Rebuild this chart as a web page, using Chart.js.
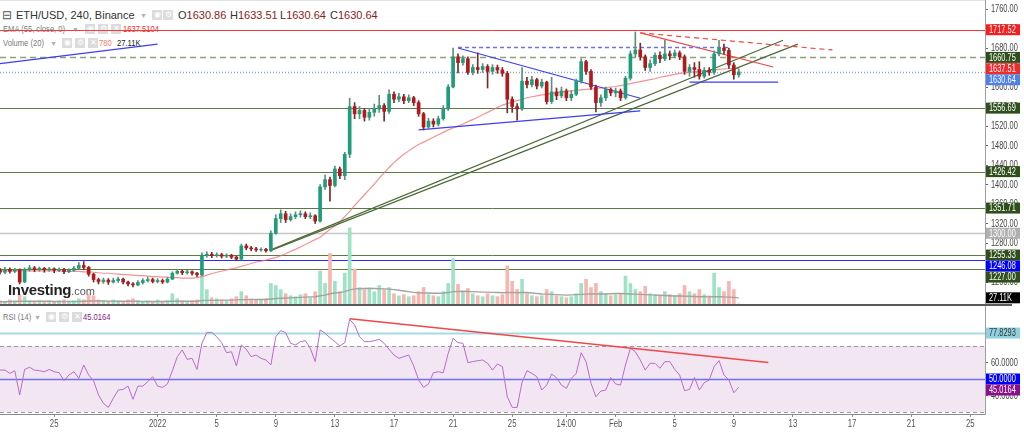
<!DOCTYPE html>
<html><head><meta charset="utf-8">
<script src="https://cdn.jsdelivr.net/npm/chart.js@4.4.1/dist/chart.umd.min.js"></script>
<style>
html,body{margin:0;padding:0;background:#fff;width:1024px;height:432px;overflow:hidden;font-family:'Liberation Sans',Arial,sans-serif;}
#wrap{position:relative;width:1024px;height:432px;}
canvas{position:absolute;left:0;z-index:1;}
#cTop{top:0;}
#cBot{top:306px;}
#divider{position:absolute;left:0;top:304px;width:1012px;height:2px;background:#5a5a5a;z-index:2;}
#topline{position:absolute;left:0;top:0;width:985px;height:1px;background:#e2e2e2;z-index:0;}
.lg{position:absolute;white-space:nowrap;z-index:0;line-height:12px;}
.sm{font-size:9.5px;transform:scaleX(0.8);transform-origin:0 50%;}
.ic{position:absolute;width:10px;height:10px;background:#dcdcdc;color:#fff;font-size:8px;line-height:10px;text-align:center;z-index:0;}
.arr{position:absolute;color:#b0b0b0;font-size:7px;z-index:0;}
#wm{position:absolute;left:8px;top:281px;z-index:3;white-space:nowrap;}
</style></head>
<body><div id="wrap">
<div id="topline"></div>
<div class="lg" style="left:2px;top:9px;font-size:12px;color:#555;">⊟</div>
<div class="lg" style="left:16px;top:9px;font-size:11px;color:#333;">ETH/USD, 240, Binance</div>
<div class="arr" style="left:140px;top:12px;">▼</div>
<div class="ic" style="left:152px;top:10px;">◉</div><div class="ic" style="left:163px;top:10px;">⚙</div>
<div class="lg" style="left:178px;top:9px;font-size:11px;color:#333;">O<span style="color:#8b1c1c">1630.86</span></div>
<div class="lg" style="left:230px;top:9px;font-size:11px;color:#333;">H<span style="color:#8b1c1c">1633.51</span></div>
<div class="lg" style="left:280px;top:9px;font-size:11px;color:#333;">L<span style="color:#8b1c1c">1630.64</span></div>
<div class="lg" style="left:330px;top:9px;font-size:11px;color:#333;">C<span style="color:#8b1c1c">1630.64</span></div>

<div class="lg sm" style="left:3px;top:23px;color:#7a7a7a;">EMA (55, close, 0)</div>
<div class="arr" style="left:72px;top:26px;">▼</div>
<div class="ic" style="left:85px;top:24px;">◉</div><div class="ic" style="left:98px;top:24px;">⚙</div><div class="ic" style="left:111px;top:24px;">✕</div>
<div class="lg sm" style="left:123px;top:23px;color:#f22;">1637.5104</div>

<div class="lg sm" style="left:3px;top:37px;color:#7a7a7a;">Volume (20)</div>
<div class="arr" style="left:50px;top:40px;">▼</div>
<div class="ic" style="left:62px;top:38px;">◉</div><div class="ic" style="left:75px;top:38px;">⚙</div><div class="ic" style="left:88px;top:38px;">✕</div>
<div class="lg sm" style="left:99px;top:37px;color:#f07a6a;">780</div>
<div class="lg sm" style="left:117px;top:37px;color:#222;">27.11K</div>

<div class="lg sm" style="left:3px;top:311px;color:#7a7a7a;">RSI (14)</div>
<div class="arr" style="left:34px;top:314px;">▼</div>
<div class="ic" style="left:46px;top:312px;">◉</div><div class="ic" style="left:59px;top:312px;">⚙</div><div class="ic" style="left:72px;top:312px;">✕</div>
<div class="lg sm" style="left:83px;top:311px;color:#8b1a8b;">45.0164</div>

<div id="wm"><span style="font-weight:bold;font-size:15px;color:#222;letter-spacing:-0.3px;">Investing</span><span style="font-size:11px;color:#555;">.com</span></div>

<canvas id="cTop" width="1024" height="304"></canvas>
<div id="divider"></div>
<canvas id="cBot" width="1024" height="126"></canvas>
</div>
<script>
// ---------------- DATA ----------------
const N_SLOTS = 201; // 8-hour slots from Dec 21 to Feb 26
const xTickSlots = [11,32,44,56,68,80,92,104,115,125,137,149,161,173,185,197];
const xTickTexts = ['25','2022','5','9','13','17','21','25','14:00','Feb','5','9','13','17','21','25'];

const opens = [1224,1220,1226,1222,1225,1200,1226,1229,1226,1228, 1225,1227,1224,1226,1221,1224,1228,1234,1230,1216, 1205,1201,1204,1200,1203,1206,1200,1196,1194,1199, 1203,1205,1201,1203,1200,1206,1218,1222,1219,1221, 1218,1215,1255,1257,1254,1256,1253,1255,1251,1247, 1274,1270,1268,1266,1267,1264,1300,1330,1340,1328, 1334,1338,1340,1334,1336,1325,1395,1410,1398,1432, 1418,1462,1560,1545,1552,1538,1548,1555,1562,1550, 1585,1575,1580,1572,1578,1568,1545,1518,1530,1524, 1535,1555,1600,1662,1650,1658,1630,1640,1636,1642, 1632,1640,1635,1628,1575,1560,1555,1612,1605,1615, 1602,1610,1570,1590,1582,1592,1578,1585,1612,1652, 1632,1600,1568,1578,1595,1588,1592,1578,1618,1668, 1676,1662,1640,1648,1665,1658,1668,1664,1670,1662, 1632,1640,1636,1622,1634,1630,1668,1680,1675,1645, 1625];
const highs = [1228,1230,1229,1228,1227,1229,1234,1232,1231,1230, 1230,1229,1229,1228,1227,1232,1240,1242,1232,1218, 1208,1208,1207,1208,1210,1208,1202,1199,1203,1207, 1210,1208,1207,1206,1209,1221,1226,1225,1224,1223, 1220,1260,1262,1261,1260,1259,1258,1257,1253,1278, 1278,1273,1271,1270,1269,1305,1338,1348,1345,1340, 1344,1346,1344,1342,1338,1400,1420,1415,1438,1436, 1466,1577,1568,1560,1556,1556,1565,1583,1566,1594, 1590,1587,1585,1584,1581,1572,1548,1536,1535,1540, 1562,1605,1680,1668,1664,1662,1646,1670,1648,1646, 1646,1645,1640,1632,1580,1566,1640,1620,1622,1618, 1616,1612,1620,1598,1600,1596,1592,1616,1658,1655, 1636,1604,1584,1600,1598,1598,1596,1622,1674,1713, 1690,1666,1656,1670,1672,1696,1674,1676,1674,1666, 1646,1650,1652,1640,1640,1674,1696,1688,1680,1650, 1637];
const lows = [1216,1217,1218,1219,1196,1199,1222,1221,1222,1220, 1222,1219,1221,1217,1219,1222,1226,1225,1212,1200, 1196,1197,1195,1198,1199,1196,1192,1190,1192,1196, 1200,1198,1198,1197,1198,1205,1216,1215,1216,1214, 1211,1213,1251,1250,1251,1249,1250,1248,1244,1246, 1266,1264,1263,1263,1261,1262,1298,1322,1322,1325, 1330,1333,1330,1330,1320,1323,1390,1366,1395,1412, 1410,1455,1535,1535,1530,1532,1540,1548,1530,1546, 1568,1570,1566,1568,1562,1540,1512,1515,1518,1520, 1532,1552,1598,1629,1645,1626,1625,1628,1630,1598, 1626,1628,1622,1547,1548,1532,1552,1598,1600,1596, 1598,1565,1566,1574,1578,1572,1572,1582,1608,1626, 1595,1549,1560,1572,1582,1580,1572,1575,1614,1662, 1655,1634,1632,1644,1650,1654,1656,1660,1656,1626, 1622,1620,1616,1618,1624,1626,1664,1668,1638,1616, 1620];
const closes = [1220,1226,1222,1225,1200,1226,1229,1226,1228,1225, 1227,1224,1226,1221,1224,1228,1234,1230,1216,1205, 1201,1204,1200,1203,1206,1200,1196,1194,1199,1203, 1205,1201,1203,1200,1206,1218,1222,1219,1221,1218, 1215,1255,1257,1254,1256,1253,1255,1251,1247,1274, 1270,1268,1266,1267,1264,1300,1330,1340,1328,1334, 1338,1340,1334,1336,1325,1395,1410,1398,1432,1418, 1462,1560,1545,1552,1538,1548,1555,1562,1550,1585, 1575,1580,1572,1578,1568,1545,1518,1530,1524,1535, 1555,1600,1662,1650,1658,1630,1640,1636,1642,1632, 1640,1635,1628,1575,1560,1555,1612,1605,1615,1602, 1610,1570,1590,1582,1592,1578,1585,1612,1652,1632, 1600,1568,1578,1595,1588,1592,1578,1618,1668,1676, 1662,1640,1648,1665,1658,1668,1664,1670,1662,1632, 1640,1636,1622,1634,1630,1668,1680,1675,1645,1625, 1631];
const ema55 = [1223,1223,1223,1223,1223,1223,1223,1223,1223,1223,1223, 1223,1223,1222,1222,1222,1222,1221,1221, 1220,1219,1218,1218,1217,1216, 1215,1215,1214,1213,1213,1212, 1211,1211,1210,1210,1209,1209, 1208,1208,1208,1209,
 1211,1214,1217,1220,1222,1225,1227,1229,1232,1235, 1238,1241,1243,1245,1248,1250,1254,1258,1263,1267, 1272,1277,1282,1287,1292,1300,1308,1315,1323,1334, 1345,1357,1368,1379,1390,1401,1413,1424,1435,1445, 1454,1462,1469,1476,1482,1487,1492,1497,1502,1507, 1512,1516,1520,1524,1529,1533,1538,1543,1548,1553, 1558,1563,1566,1569,1572,1575,1578,1580,1582,1584, 1585,1587,1588,1590,1591,1592,1593,1594,1595,1596, 1597,1598,1599,1600,1601,1603,1605,1607,1609,1611, 1613,1615,1617,1620,1622,1624,1626,1628,1629,1630, 1631,1632,1633,1634,1635,1636,1637,1638,1638,1638];
const volumes = [14,9,18,14,41,32,14,9,14,9, 14,9,14,18,9,14,23,18,41,36, 18,14,9,18,14,9,18,23,14,9, 14,9,18,9,14,45,23,14,9,14, 18,131,63,27,23,18,14,23,32,54, 36,23,18,18,23,90,81,63,45,36, 32,41,45,27,54,144,90,221,99,54, 135,333,153,72,63,68,54,81,63,72, 45,36,41,32,36,54,72,41,36,32, 54,90,198,86,54,68,45,36,32,45, 36,32,41,167,99,63,108,45,36,32, 36,63,54,36,32,27,32,45,90,108, 72,90,54,45,36,41,45,122,90,63, 54,77,45,41,36,54,41,36,45,81, 54,45,63,41,36,135,72,54,99,63, 0.78];
const volumeMA = [10,10,11,11,12,12,12,12,12,12, 12,11,11,11,11,11,11,12,13,13, 13,13,12,12,12,12,12,12,12,11, 11,11,11,11,12,12,12,12,12,12, 12,
 15,16,16,16,17,17,17,18,19,19,19,20,20,20,22,
 24,25,26,27,28,29,30,31,32,36,39,45,48,50,54,
 62,66,67,68,69,68,67,66,65,63,60,57,54,51,49,48,48,47,47,48,
 50,54,55,56,55,54,53,52,52,51,50,49,50,50,49,50,50,48,46,44,
 43,42,41,40,39,40,41,42,43,44,44,44,44,45,46,46,45,44,43,42,
 41,40,39,38,37,36,35,35,34,34,33,32,32,31,32,32,31,30,29,27];
const rsi14 = [55.4,55.4,53.4,55.0,40.3,55.8,57.1,55.4,55.0,54.4, 55.8,54.4,53.8,49.0,52.4,54.4,50.4,58.5,52.4,49.0, 40.3,35.2,32.8,38.3,43.3,43.7,45.7,37.7,45.7,45.7, 48.4,51.4,45.7,44.9,47.0,55.0,63.5,67.6,61.9,62.5, 55.8,71.6,78.1,78.3,75.6,72.0,65.9,66.5,57.9,70.6, 68.0,63.5,64.5,62.5,61.5,58.5,75.6,79.3,78.1,71.6, 70.6,72.6,73.2,68.6,60.5,79.7,77.7,75.0,72.6,70.0, 72.0,86.1,82.7,75.6,72.6,72.6,73.2,74.0,71.6,68.0, 64.5,62.5,63.5,64.5,57.9,49.4,44.9,47.0,53.8,54.4, 53.8,65.5,74.6,72.0,71.6,59.9,60.5,61.1,61.5,59.5, 55.4,59.1,57.5,39.3,32.8,32.8,48.0,55.0,53.4,51.4, 43.3,46.3,53.0,50.8,46.3,44.3,50.4,53.4,65.9,60.5, 47.4,39.3,42.7,43.3,50.8,47.0,46.3,58.5,68.6,66.5, 61.5,55.4,59.5,59.5,56.5,60.5,60.5,55.8,52.4,42.9, 43.7,51.0,43.3,47.8,49.4,57.5,61.1,52.4,49.4,41.7, 45.0];

// trend lines: [slot, value] endpoints
const blueWedgeTop = [[93,1680],[130,1577]];
const blueWedgeBottom = [[85,1512],[130,1551]];
const blueTopDashed = [[93,1681],[148,1681]];
const blueFloor = [[140,1610],[158,1610]];
const blueTopLeft = [[0,1648],[32,1688]];
const redChannel = [[130,1711],[157,1641]];
const redDashed = [[130,1711],[169,1676]];
const greenUpper = [[55,1266],[159,1696]];
const greenLower = [[55,1265],[162,1688]];
const rsiTrend = [[71,86.5],[156,60.0]];

const priceLevels = [1717.52,1660.75,1630.64,1556.69,1426.42,1351.71,1300.00,1255.33,1246.08,1227.00];
const emaLast = 1637.51;
const volMALast = 27.11;
const priceTicks = [1200,1240,1280,1320,1360,1400,1440,1480,1520,1560,1600,1640,1680,1720,1760];
const rsiTicks = [40,50,60];
const rsiLevels = [77.8293,70,50,30];
const rsiLast = 45.0164;

// ---------------- STYLE / BUILD ----------------
const FAM = "'Liberation Sans',Arial,sans-serif";
const labels = Array.from({length:N_SLOTS},(_,i)=>{const k=xTickSlots.indexOf(i);return k>=0?xTickTexts[k]:'';});
function seg(pts){const a=new Array(N_SLOTS).fill(null);pts.forEach(([i,v])=>{a[i]=v;});return a;}
const isUp = closes.map((c,i)=>c>=opens[i]);
const UP='#1f9c7a', DN='#b3191b';

const levelStyles = [
  {color:'#f23b3b',w:1,dash:[]},
  {color:'#8da27a',w:1.6,dash:[6,4]},
  {color:'#89a3f0',w:1.6,dash:[1,2]},
  {color:'#5b7a44',w:1,dash:[]},
  {color:'#5b7a44',w:1,dash:[]},
  {color:'#5b7a44',w:1,dash:[]},
  {color:'#c6c6c6',w:1.6,dash:[]},
  {color:'#5b7a44',w:1,dash:[]},
  {color:'#2b2bf5',w:1.2,dash:[]},
  {color:'#5b7a44',w:1,dash:[]}
];
const levelBoxColors = ['#f51f1f','#2e4f1c','#4f80ea','#2e4f1c','#2e4f1c','#2e4f1c','#b0b0b0','#2e4f1c','#0000ff','#2e4f1c'];
const levelBoxes = priceLevels.map((v,i)=>({axis:'y',value:v,text:v.toFixed(2),bg:levelBoxColors[i],fg:'#fff',rank:(i===2?1:0)}));
levelBoxes.push({axis:'y',value:emaLast,text:emaLast.toFixed(2),bg:'#f22a2a',fg:'#fff',rank:0});
levelBoxes.push({axis:'yVol',value:volMALast,text:volMALast.toFixed(2)+'K',bg:'#000',fg:'#fff',rank:0});

function narrowText(ctx,text,x,y,align,sx,font,color){
  ctx.save();ctx.translate(x,y);ctx.scale(sx,1);ctx.font=font;ctx.fillStyle=color;ctx.textAlign=align;ctx.textBaseline='middle';ctx.fillText(text,0,0);ctx.restore();
}

const levelsPlugin = {
  id:'levels',
  beforeDatasetsDraw(chart,args,opts){
    const ctx=chart.ctx,a=chart.chartArea;
    ctx.save();
    (opts.bands||[]).forEach(b=>{const s=chart.scales[b.axis];const y1=s.getPixelForValue(b.from),y2=s.getPixelForValue(b.to);ctx.fillStyle=b.color;ctx.fillRect(a.left,Math.min(y1,y2),a.right-a.left,Math.abs(y2-y1));});
    (opts.lines||[]).forEach(l=>{const s=chart.scales[l.axis];const y=Math.round(s.getPixelForValue(l.value))+0.5;ctx.strokeStyle=l.color;ctx.lineWidth=l.w;ctx.setLineDash(l.dash);ctx.beginPath();ctx.moveTo(a.left,y);ctx.lineTo(a.right,y);ctx.stroke();});
    ctx.restore();
  },
  afterDraw(chart,args,opts){
    const ctx=chart.ctx,a=chart.chartArea;const h=11;
    if(opts.yDec!==undefined){const s=chart.scales.y;s.ticks.forEach(t=>{narrowText(ctx,Number(t.value).toFixed(opts.yDec),a.right+6,s.getPixelForValue(t.value)+0.5,'left',0.74,'10px '+FAM,'#444');});}
    if(opts.xLabels){const s=chart.scales.x;labels.forEach((lb,i)=>{if(lb)narrowText(ctx,lb,s.getPixelForValue(i),a.bottom+10,'center',0.78,'10px '+FAM,'#555');});}
    const boxes=(opts.boxes||[]).map(b=>Object.assign({},b,{py:chart.scales[b.axis].getPixelForValue(b.value)})).sort((p,q)=>(p.py+p.rank*100)-(q.py+q.rank*100));
    const placed=[];
    boxes.forEach(b=>{let top=b.py-h/2;
      let moved=true;while(moved){moved=false;placed.forEach(p=>{if(top<p+h&&top+h>p){top=p+h;moved=true;}});}
      placed.push(top);
      ctx.fillStyle=b.bg;ctx.fillRect(a.right+1,top,34,h);
      narrowText(ctx,b.text,a.right+4,top+h/2+0.5,'left',0.74,'10px '+FAM,b.fg);});
  }
};

function lineDS(data,color,opt){return Object.assign({type:'line',data:data,borderColor:color,borderWidth:1.2,pointRadius:0,spanGaps:true,tension:0,fill:false,order:2},opt||{});}
const yAxisCommon = (ticksArr)=>({
  position:'right',
  afterBuildTicks:s=>{s.ticks=ticksArr.map(v=>({value:v}));},
  ticks:{display:false},
  grid:{drawOnChartArea:false,drawTicks:true,tickLength:3,color:'#666'},
  border:{display:true,color:'#a0a0a0'},
  afterFit:s=>{s.width=39;s.paddingTop=0;s.paddingBottom=0;}
});

// ---- Price chart ----
new Chart(document.getElementById('cTop'),{
  data:{labels:labels,datasets:[
    {type:'bar',data:opens.map((o,i)=>[o,closes[i]]),backgroundColor:isUp.map(u=>u?UP:DN),barThickness:3,grouped:false,order:0,yAxisID:'y'},
    {type:'bar',data:lows.map((l,i)=>[l,highs[i]]),backgroundColor:isUp.map(u=>u?'#5f8f7c':'#7a2a2a'),barThickness:1,grouped:false,order:1,yAxisID:'y'},
    lineDS(ema55,'rgba(242,110,110,0.75)',{order:4,borderWidth:1.2}),
    lineDS(seg(blueWedgeTop),'#3d3df2'),
    lineDS(seg(blueWedgeBottom),'#3d3df2'),
    lineDS(seg(blueTopDashed),'#6f6ff5',{borderDash:[4,3],borderWidth:1.5}),
    lineDS(seg(blueFloor),'#3d3df2'),
    lineDS(seg(blueTopLeft),'#3d3df2'),
    lineDS(seg(redChannel),'#f04646'),
    lineDS(seg(redDashed),'#f04646',{borderDash:[5,4]}),
    lineDS(seg(greenUpper),'#4e6b38'),
    lineDS(seg(greenLower),'#4e6b38'),
    {type:'bar',data:volumes,backgroundColor:isUp.map(u=>u?'#9fe3c5':'#f8b6b0'),barThickness:3,grouped:false,order:6,yAxisID:'yVol'},
    lineDS(volumeMA,'#a3a3a3',{order:5,yAxisID:'yVol',borderWidth:1.4})
  ]},
  options:{responsive:false,animation:false,events:[],
    layout:{padding:0},
    plugins:{legend:{display:false},tooltip:{enabled:false},
      levels:{yDec:2,lines:priceLevels.map((v,i)=>Object.assign({axis:'y',value:v},levelStyles[i])),boxes:levelBoxes}},
    scales:{
      x:{type:'category',display:false,offset:false},
      y:Object.assign(yAxisCommon(priceTicks),{min:1154.9,max:1778.5}),
      yVol:{display:false,min:0,max:1330,position:'left'}
    }
  },
  plugins:[levelsPlugin]
});

// ---- RSI chart ----
new Chart(document.getElementById('cBot'),{
  data:{labels:labels,datasets:[
    lineDS(rsi14,'#b86ccb',{borderWidth:1,order:1}),
    lineDS(seg(rsiTrend),'#f04848',{borderWidth:1.4,order:0})
  ]},
  options:{responsive:false,animation:false,events:[],
    layout:{padding:0},
    plugins:{legend:{display:false},tooltip:{enabled:false},
      levels:{yDec:4,xLabels:true,
        bands:[{axis:'y',from:30,to:70,color:'#f3e6f3'}],
        lines:[
          {axis:'y',value:rsiLevels[0],color:'#a6dbe6',w:2,dash:[]},
          {axis:'y',value:rsiLevels[1],color:'#9a9a9a',w:1,dash:[4,3]},
          {axis:'y',value:rsiLevels[2],color:'#7070f0',w:1.6,dash:[]},
          {axis:'y',value:rsiLevels[3],color:'#9a9a9a',w:1,dash:[4,3]}
        ],
        boxes:[
          {axis:'y',value:rsiLevels[0],text:rsiLevels[0].toFixed(4),bg:'#8fd2de',fg:'#333',rank:0},
          {axis:'y',value:rsiLevels[2],text:rsiLevels[2].toFixed(4),bg:'#0000ff',fg:'#fff',rank:0},
          {axis:'y',value:rsiLast,text:rsiLast.toFixed(4),bg:'#8a0f8a',fg:'#fff',rank:1}
        ]}},
    scales:{
      x:{type:'category',offset:false,
        grid:{display:true,drawOnChartArea:false,drawTicks:true,tickLength:3,
          color:c=>(labels[c.index]?'#8a8a8a':'rgba(0,0,0,0)')},
        border:{display:true,color:'#8a8a8a'},
        ticks:{display:false,autoSkip:false,maxRotation:0,minRotation:0},
        afterFit:s=>{s.height=18;s.paddingLeft=0;s.paddingRight=0;}},
      y:Object.assign(yAxisCommon(rsiTicks),{min:28.8,max:94.2})
    }
  },
  plugins:[levelsPlugin]
});
</script>
</body></html>
